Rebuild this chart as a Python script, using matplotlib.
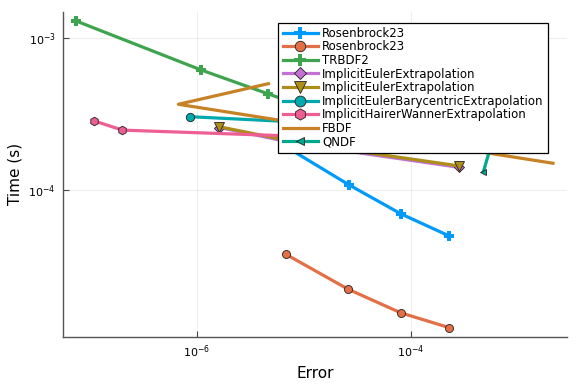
import matplotlib
matplotlib.use("Agg")
import matplotlib.pyplot as plt
from matplotlib.ticker import FixedLocator, NullLocator

# ---- data ----
trbdf2_err = [7.36e-8, 1.09e-6, 4.63e-6, 1.96e-5]
trbdf2_time = [1.30e-3, 6.18e-4, 4.30e-4, 2.99e-4]

ros_a_err = [6.38e-6, 2.65e-5, 8.13e-5, 2.29e-4]
ros_a_time = [1.98e-4, 1.08e-4, 6.95e-5, 4.98e-5]

ros_b_err = [6.78e-6, 2.59e-5, 8.07e-5, 2.28e-4]
ros_b_time = [3.77e-5, 2.22e-5, 1.55e-5, 1.24e-5]

iee_a_err = [1.62e-6, 9.21e-6, 2.84e-4]
iee_a_time = [2.58e-4, 2.00e-4, 1.41e-4]

iee_b_err = [1.62e-6, 9.21e-6, 2.84e-4]
iee_b_time = [2.61e-4, 2.04e-4, 1.44e-4]

ieb_err = [8.60e-7, 1.22e-4]
ieb_time = [3.04e-4, 2.56e-4]

ihw_err = [1.09e-7, 2.00e-7, 7.96e-5]
ihw_time = [2.85e-4, 2.48e-4, 2.14e-4]

fbdf_err = [4.66e-6, 6.68e-7, 7.96e-5, 2.15e-3]
fbdf_time = [5.02e-4, 3.67e-4, 2.16e-4, 1.50e-4]

qndf_err = [6.44e-4, 4.80e-4]
qndf_time = [2.68e-4, 1.32e-4]

labels = ["Rosenbrock23", "Rosenbrock23", "TRBDF2", "ImplicitEulerExtrapolation",
          "ImplicitEulerExtrapolation", "ImplicitEulerBarycentricExtrapolation",
          "ImplicitHairerWannerExtrapolation", "FBDF", "QNDF"]

xticks = [1e-6, 1e-4]
xtick_labels = [r"$10^{-6}$", r"$10^{-4}$"]
yticks = [1e-4, 1e-3]
ytick_labels = [r"$10^{-4}$", r"$10^{-3}$"]

colors = ["#009AFA", "#E36F47", "#3EA44E", "#C371D2", "#AC8E18",
          "#00A9AD", "#ED5E93", "#C68225", "#00A98D"]

plt.rcParams['font.family'] = ['DejaVu Sans']

fig = plt.figure(figsize=(5.76, 3.84), dpi=100)
ax = fig.add_axes([0.1089, 0.1232, 0.8755, 0.8456])

lw = 2.3
series = [
    (ros_a_err, ros_a_time, dict(marker='P', ms=6.5, mec=colors[0], mew=0)),
    (ros_b_err, ros_b_time, dict(marker='o', ms=5.8, mec='#222222', mew=0.6)),
    (trbdf2_err, trbdf2_time, dict(marker='P', ms=6.5, mec=colors[2], mew=0)),
    (iee_a_err, iee_a_time, dict(marker='D', ms=5.0, mec='#222222', mew=0.6)),
    (iee_b_err, iee_b_time, dict(marker='v', ms=6.5, mec='#222222', mew=0.6)),
    (ieb_err, ieb_time, dict(marker='o', ms=6.0, mec='#222222', mew=0.6)),
    (ihw_err, ihw_time, dict(marker='h', ms=6.2, mec='#222222', mew=0.6)),
    (fbdf_err, fbdf_time, dict(marker='None')),
    (qndf_err, qndf_time, dict(marker='<', ms=4.0, mec='#222222', mew=0.6)),
]
for i, (x, y, kw) in enumerate(series):
    ax.plot(x, y, color=colors[i], lw=lw, label=labels[i], mfc=colors[i], **kw)

ax.set_xscale('log')
ax.set_yscale('log')
ax.set_xlim(10**-7.2575, 10**-2.536)
ax.set_ylim(10**-4.967, 10**-2.827)

ax.xaxis.set_major_locator(FixedLocator(xticks))
ax.set_xticklabels(xtick_labels)
ax.yaxis.set_major_locator(FixedLocator(yticks))
ax.set_yticklabels(ytick_labels)
ax.xaxis.set_minor_locator(NullLocator())
ax.yaxis.set_minor_locator(NullLocator())
ax.tick_params(direction='in', length=4, width=0.8, color='#444444', labelsize=8, pad=5)
ax.grid(True, color='black', alpha=0.08, lw=0.6)

for s in ['top', 'right']:
    ax.spines[s].set_visible(False)
for s in ['left', 'bottom']:
    ax.spines[s].set_color('#555555')
    ax.spines[s].set_linewidth(1.0)

ax.set_xlabel("Error", fontsize=11)
ax.set_ylabel("Time (s)", fontsize=11)

leg = ax.legend(loc='upper right', bbox_to_anchor=(0.9617, 0.967), fontsize=8.5,
                frameon=True, fancybox=False, framealpha=1, edgecolor='black',
                handlelength=3.0, handletextpad=0.35, labelspacing=0.05,
                borderpad=0.35, borderaxespad=0, markerscale=1.3)
leg.get_frame().set_linewidth(0.9)

fig.savefig("out.png", dpi=100)
